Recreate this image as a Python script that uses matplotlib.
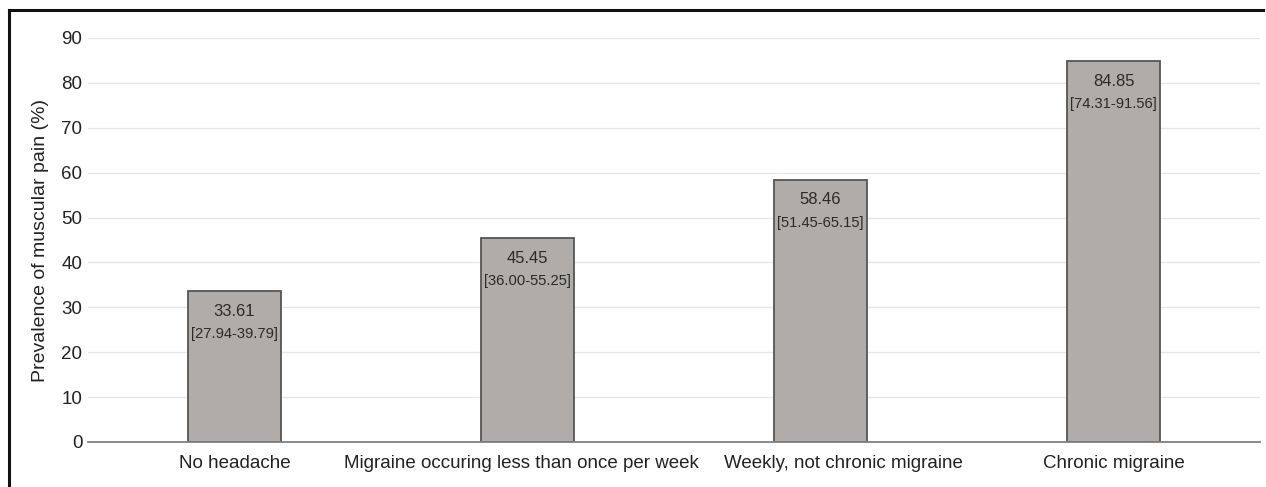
import matplotlib
matplotlib.use("Agg")
import matplotlib.pyplot as plt
from matplotlib.lines import Line2D
from matplotlib.transforms import ScaledTranslation

categories = ["No headache", "Migraine occuring less than once per week",
              "Weekly, not chronic migraine", "Chronic migraine"]
values = [33.61, 45.45, 58.46, 84.85]
ci_labels = ["[27.94-39.79]", "[36.00-55.25]", "[51.45-65.15]", "[74.31-91.56]"]
yticks = [0, 10, 20, 30, 40, 50, 60, 70, 80, 90]

plt.rcParams['font.family'] = ['Liberation Sans', 'DejaVu Sans']

fig = plt.figure(figsize=(12.66, 4.87), dpi=100)
ax = fig.add_axes([88/1266, 1-442/487, (1260-88)/1266, (442-38)/487])

x = range(len(categories))
ax.bar(x, values, width=0.32, color="#b0acaa", edgecolor="#555555", linewidth=1.3, zorder=3)

for i, (v, ci) in enumerate(zip(values, ci_labels)):
    ax.annotate(f"{v:.2f}", (i, v), xytext=(0, -14.5), textcoords="offset points",
                ha="center", va="center", fontsize=12, color="#2a2a2a", zorder=4)
    ax.annotate(ci, (i, v), xytext=(0, -31), textcoords="offset points",
                ha="center", va="center", fontsize=10.6, color="#2a2a2a", zorder=4)

ax.set_xlim(-0.5, 3.5)
ax.set_ylim(0, 90)
ax.set_yticks(yticks)
ax.set_xticks(list(x))
ax.set_xticklabels(categories)
ax.yaxis.grid(True, color="#e6e6e6", linewidth=1.0, zorder=0)
ax.set_axisbelow(True)
for s in ["top", "right", "left"]:
    ax.spines[s].set_visible(False)
ax.spines["bottom"].set_color("#808080")
ax.spines["bottom"].set_linewidth(1.3)
ax.spines["bottom"].set_zorder(5)
ax.tick_params(axis="x", length=0, labelsize=13.5, labelcolor="#222222", pad=9)
ax.tick_params(axis="y", length=0, labelsize=13.5, labelcolor="#222222", pad=4)
ax.set_ylabel("Prevalence of muscular pain (%)", fontsize=14, color="#222222", labelpad=9)

# nudge crowded category labels apart (pixel offsets, as in the reference)
for lbl, dx in zip(ax.get_xticklabels(), [0, -6.5, 23, 0]):
    lbl.set_transform(lbl.get_transform() + ScaledTranslation(dx / 100, 0, fig.dpi_scale_trans))

# figure frame (top and left)
fig.add_artist(Line2D([9/1266, 1263/1266], [1-10/487, 1-10/487], color="#111111", linewidth=2.2, transform=fig.transFigure))
fig.add_artist(Line2D([9/1266, 9/1266], [0, 1-10/487], color="#111111", linewidth=2.2, transform=fig.transFigure))

fig.savefig("out.png", dpi=100)
